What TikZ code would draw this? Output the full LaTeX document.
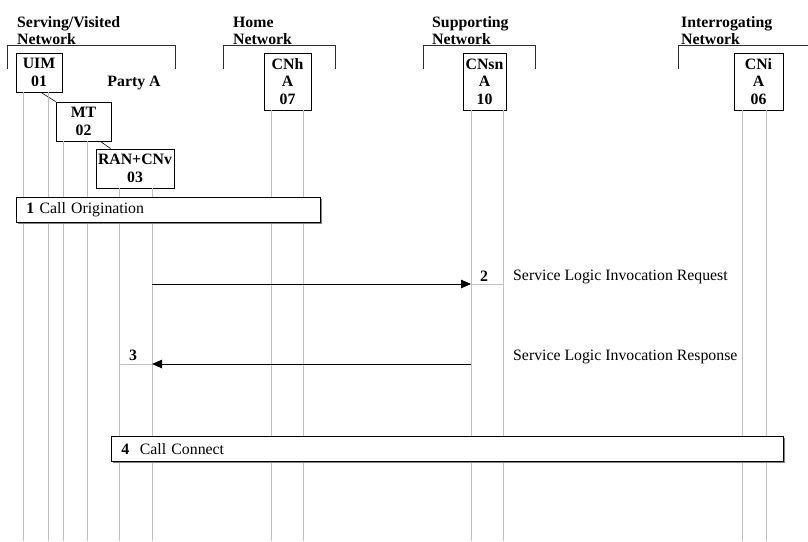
\documentclass[tikz,border=0pt]{standalone}
\usepackage{fontspec}
\setmainfont{Liberation Serif}
\usetikzlibrary{positioning, arrows.meta, calc, shadows}
\definecolor{lifeGrey}{RGB}{192,192,192}
\definecolor{edgeBase}{RGB}{ 45, 45, 45}
\definecolor{shadowGrey}{RGB}{130,130,130}
\newcommand{\seqfont}{\fontsize{15.8}{17.4}\selectfont}
\tikzset{
    entity/.style={
        draw=black, fill=white, line width=0.8pt, inner sep=0pt,
        align=center, font=\seqfont\bfseries,
    },
    netlabel/.style={
        anchor=north west, align=left, inner sep=0pt,
        font=\seqfont\bfseries,
    },
    % lifelines and the short stubs at the message ends share one grey
    lifeline/.style={
        draw=lifeGrey, line width=0.9pt,
    },
    bracket/.style={
        draw=edgeBase, line width=0.8pt,
    },
    msg/.style={
        -{Triangle[length=10pt, width=8.5pt]}, line width=0.8pt, draw=black,
    },
    phase/.style={
        draw=black, fill=white, line width=0.8pt, anchor=north west,
        inner xsep=10pt, inner ysep=0pt, minimum height=25pt,
        align=left, font=\seqfont,
        drop shadow={shadow xshift=1.2pt, shadow yshift=-1.2pt,
                     fill=shadowGrey, opacity=1},
    },
    steplabel/.style={
        font=\seqfont\bfseries, inner sep=0pt,
    },
    msglabel/.style={
        anchor=west, inner sep=0pt, font=\seqfont,
    },
}

\begin{document}
\begin{tikzpicture}[x=1pt, y=-1pt]
\useasboundingbox[fill=white] (0,0) rectangle (808,541);

% ============================================================
%   Network headers and brackets
% ============================================================
\node[netlabel] (servnet) at ( 17,15) {\strut Serving/Visited\\Network};
\node[netlabel] (homenet) at (233,15) {\strut Home\\Network};
\node[netlabel] (suppnet) at (432,15) {\strut Supporting\\Network};
\node[netlabel] (intnet)  at (681,15) {\strut Interrogating\\Network};

\draw[bracket] (7,69)   -- (7,45)   -- (175,45) -- (175,69);
\draw[bracket] (223,69) -- (223,45) -- (335,45) -- (335,69);
\draw[bracket] (423,69) -- (423,45) -- (535,45) -- (535,69);
\draw[bracket] (678,69) -- (678,45) -- (808,45);

% ============================================================
%   Entities
% ============================================================
\node[entity, minimum width=46pt, minimum height=39pt] (uim)  at ( 39.0, 72.5) {UIM\\01};
\node[entity, minimum width=55pt, minimum height=39pt] (mt)   at ( 83.5,121.5) {MT\\02};
\node[entity, minimum width=78pt, minimum height=39pt] (ran)  at (135.0,168.5) {RAN+CNv\\03};
\node[entity, minimum width=47pt, minimum height=57pt] (cnh)  at (287.5, 81.5) {CNh\\A\\07};
\node[entity, minimum width=43pt, minimum height=57pt] (cnsn) at (484.5, 81.5) {CNsn\\A\\10};
\node[entity, minimum width=49pt, minimum height=57pt] (cni)  at (758.5, 81.5) {CNi\\A\\06};

\node[steplabel] (partyA) at (134,83) {Party A};

\draw[line width=0.6pt] ($(uim.south)+(2,0)$) -- (mt.north west);
\draw[line width=0.6pt] ($(mt.south east)+(-11,0)$) -- ($(ran.north west)+(15,0)$);

% ============================================================
%   Lifelines (two per entity)
% ============================================================
\foreach \ent/\lx in {uim/23, uim/48, mt/63, mt/87, ran/119, ran/152,
                      cnh/271, cnh/303, cnsn/471, cnsn/503, cni/742, cni/766}
    \draw[lifeline] (\ent.south -| \lx,0) -- (\lx,541);

% ============================================================
%   Flow
% ============================================================
\node[phase, text width=284pt] (orig) at (16,197)
    {\textbf{1} Call Origination};

\coordinate (reqFrom) at (152,284);
\coordinate (reqTo)   at (471,284);
\coordinate (reqStub) at (503,284);
\draw[lifeline] (reqTo) -- (reqStub);
\draw[msg] (reqFrom) -- (reqTo);
\node[steplabel] (n2) at (484,276) {2};
\node[msglabel] (req) at (513,277) {Service Logic Invocation Request};

\coordinate (rspFrom) at (471,364);
\coordinate (rspTo)   at (152,364);
\coordinate (rspStub) at (120,364);
\draw[lifeline] (rspStub) -- (rspTo);
\draw[msg] (rspFrom) -- (rspTo);
\node[steplabel] (n3) at (133,355) {3};
\node[msglabel] (rsp) at (513,357) {Service Logic Invocation Response};

\node[phase, text width=652pt] (conn) at (111,436)
    {\textbf{4}\ \ Call Connect};

\end{tikzpicture}
\end{document}
